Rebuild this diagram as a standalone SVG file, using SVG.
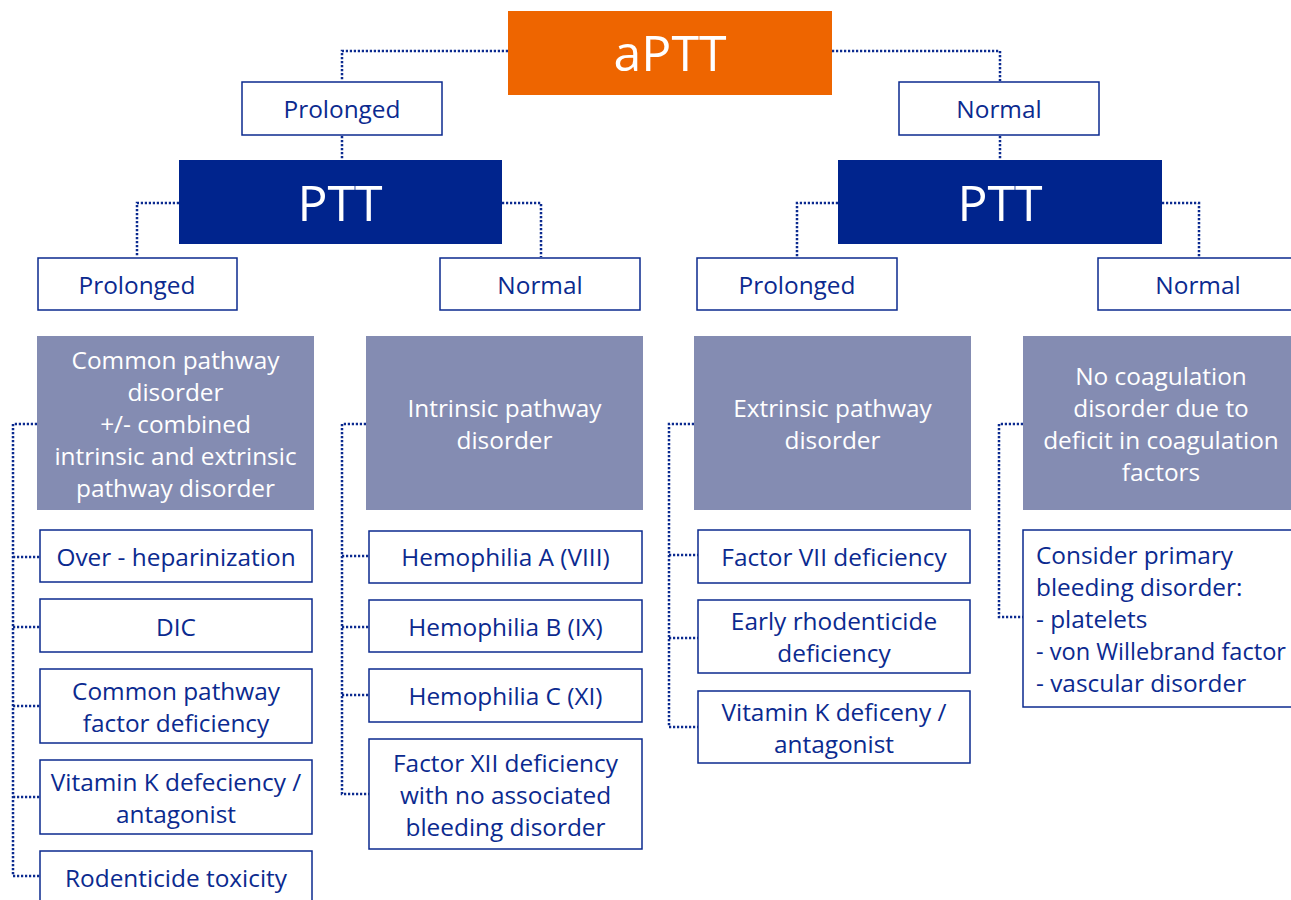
<svg xmlns="http://www.w3.org/2000/svg" width="1291" height="900" viewBox="0 0 1291 900">
<style>
text{font-family:"Open Sans","Liberation Sans",sans-serif;font-size:24.4px;text-anchor:middle}
.big{font-size:50px;fill:#fff}
.wb{fill:#fff;stroke:#0b2a8f;stroke-width:1.5}
.wt{fill:#0b2a8f}
.gb{fill:#848cb2}
.gt{fill:#fff}
.dk{fill:#00248d}
.or{fill:#ee6500}
.c{fill:none;stroke:#0b2a8f;stroke-width:2.5;stroke-dasharray:2.2 1.8}
</style>
<rect width="1291" height="900" fill="#fff"/>
<g id="connectors">
<path class="c" d="M508 51H342V81"/>
<path class="c" d="M832 51H1000V81"/>
<path class="c" d="M342 136V160"/>
<path class="c" d="M1000 136V160"/>
<path class="c" d="M179 203H137V257"/>
<path class="c" d="M502 203H541V257"/>
<path class="c" d="M838 203H797V257"/>
<path class="c" d="M1162 203H1199V257"/>
<path class="c" d="M37 424H13V876H40M13 557H40M13 627H40M13 706H40M13 797H40"/>
<path class="c" d="M366 424H342V794H369M342 556H369M342 627H369M342 695H369"/>
<path class="c" d="M694 424H669V727H698M669 555H698M669 638H698"/>
<path class="c" d="M1023 424H999V617H1023"/>
</g>
<g id="aptt"><rect class="or" x="508" y="11" width="324" height="84"/><text class="big" x="670" y="71">aPTT</text></g>
<g id="prolonged1"><rect class="wb" x="242" y="82" width="200" height="53"/><text class="wt" x="342" y="118">Prolonged</text></g>
<g id="normal1"><rect class="wb" x="899" y="82" width="200" height="53"/><text class="wt" x="999" y="118">Normal</text></g>
<g id="ptt-left"><rect class="dk" x="179" y="160" width="323" height="84"/><text class="big" x="340" y="221">PTT</text></g>
<g id="ptt-right"><rect class="dk" x="838" y="160" width="324" height="84"/><text class="big" x="1000" y="221">PTT</text></g>
<g id="prolonged-a"><rect class="wb" x="38" y="258" width="199" height="52"/><text class="wt" x="137" y="294">Prolonged</text></g>
<g id="normal-a"><rect class="wb" x="440" y="258" width="200" height="52"/><text class="wt" x="540" y="294">Normal</text></g>
<g id="prolonged-b"><rect class="wb" x="697" y="258" width="200" height="52"/><text class="wt" x="797" y="294">Prolonged</text></g>
<g id="normal-b"><rect class="wb" x="1098" y="258" width="202" height="52"/><text class="wt" x="1198" y="294">Normal</text></g>
<g id="common"><rect class="gb" x="37" y="336" width="277" height="174"/><text class="gt" x="175.5" y="369">Common pathway<tspan x="175.5" y="401">disorder</tspan><tspan x="175.5" y="433">+/- combined</tspan><tspan x="175.5" y="465">intrinsic and extrinsic</tspan><tspan x="175.5" y="497">pathway disorder</tspan></text></g>
<g id="intrinsic"><rect class="gb" x="366" y="336" width="277" height="174"/><text class="gt" x="504.5" y="417">Intrinsic pathway<tspan x="504.5" y="449">disorder</tspan></text></g>
<g id="extrinsic"><rect class="gb" x="694" y="336" width="277" height="174"/><text class="gt" x="832.5" y="417">Extrinsic pathway<tspan x="832.5" y="449">disorder</tspan></text></g>
<g id="nocoag"><rect class="gb" x="1023" y="336" width="276" height="174"/><text class="gt" x="1161" y="385">No coagulation<tspan x="1161" y="417">disorder due to</tspan><tspan x="1161" y="449">deficit in coagulation</tspan><tspan x="1161" y="481">factors</tspan></text></g>
<g id="overhep"><rect class="wb" x="40" y="530" width="272" height="52"/><text class="wt" x="176" y="566">Over - heparinization</text></g>
<g id="dic"><rect class="wb" x="40" y="599" width="272" height="53"/><text class="wt" x="176" y="636">DIC</text></g>
<g id="commonfactor"><rect class="wb" x="40" y="669" width="272" height="74"/><text class="wt" x="176" y="700">Common pathway<tspan x="176" y="732">factor deficiency</tspan></text></g>
<g id="vitk1"><rect class="wb" x="40" y="760" width="272" height="74"/><text class="wt" x="176" y="791">Vitamin K defeciency /<tspan x="176" y="823">antagonist</tspan></text></g>
<g id="rodent"><rect class="wb" x="40" y="851" width="272" height="60"/><text class="wt" x="176" y="887">Rodenticide toxicity</text></g>
<g id="hema"><rect class="wb" x="369" y="531" width="273" height="52"/><text class="wt" x="505.5" y="566">Hemophilia A (VIII)</text></g>
<g id="hemb"><rect class="wb" x="369" y="600" width="273" height="52"/><text class="wt" x="505.5" y="636">Hemophilia B (IX)</text></g>
<g id="hemc"><rect class="wb" x="369" y="669" width="273" height="53"/><text class="wt" x="505.5" y="705">Hemophilia C (XI)</text></g>
<g id="fxii"><rect class="wb" x="369" y="739" width="273" height="110"/><text class="wt" x="505.5" y="772">Factor XII deficiency<tspan x="505.5" y="804">with no associated</tspan><tspan x="505.5" y="836">bleeding disorder</tspan></text></g>
<g id="fvii"><rect class="wb" x="698" y="530" width="272" height="53"/><text class="wt" x="834" y="566">Factor VII deficiency</text></g>
<g id="early"><rect class="wb" x="698" y="600" width="272" height="73"/><text class="wt" x="834" y="630">Early rhodenticide<tspan x="834" y="662">deficiency</tspan></text></g>
<g id="vitk2"><rect class="wb" x="698" y="691" width="272" height="72"/><text class="wt" x="834" y="721">Vitamin K deficeny /<tspan x="834" y="753">antagonist</tspan></text></g>
<g id="consider"><rect class="wb" x="1023" y="530" width="276" height="177"/>
<text class="wt" style="text-anchor:start" x="1036" y="564">Consider primary</text>
<text class="wt" style="text-anchor:start" x="1036" y="596">bleeding disorder:</text>
<text class="wt" style="text-anchor:start" x="1036" y="628">- platelets</text>
<text class="wt" style="text-anchor:start;font-size:23.4px" x="1036" y="660" textLength="250" lengthAdjust="spacingAndGlyphs">- von Willebrand factor</text>
<text class="wt" style="text-anchor:start" x="1036" y="692">- vascular disorder</text></g>
</svg>
